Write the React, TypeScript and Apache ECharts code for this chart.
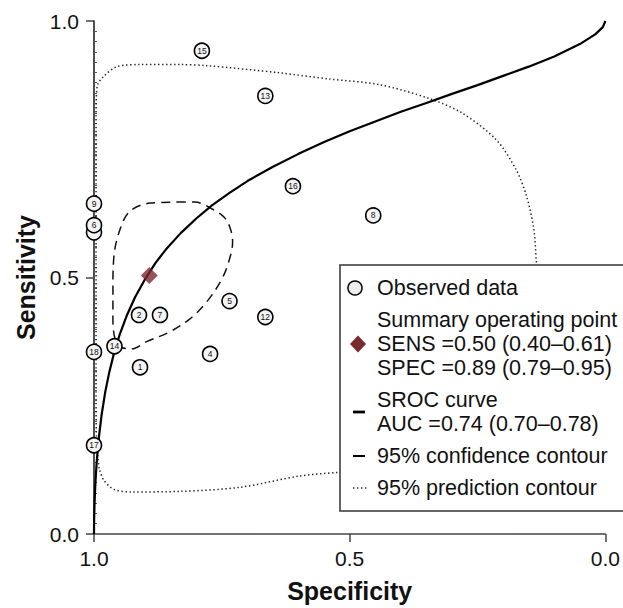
import React, { useEffect, useRef } from 'react';
import * as echarts from 'echarts';

// Individual studies (specificity, sensitivity); study 10 lies under study 6
const studyLabels = ['10', '18', '6', '9', '17', '1', '2', '4', '5', '7', '8', '12', '13', '14', '15', '16'];
const studySpec = [1.0, 1.0, 1.0, 1.0, 1.0, 0.91, 0.912, 0.773, 0.735, 0.871, 0.454, 0.665, 0.665, 0.96, 0.789, 0.611];
const studySens = [0.588, 0.355, 0.602, 0.644, 0.173, 0.325, 0.427, 0.351, 0.454, 0.427, 0.621, 0.423, 0.854, 0.366, 0.942, 0.678];
const hiddenLabels = ['10'];

// Summary operating point
const summarySpec = [0.892];
const summarySens = [0.504];

// SROC curve
const srocSpec = [1.0, 0.9999, 0.9997, 0.999, 0.998, 0.997, 0.995, 0.993, 0.99, 0.985, 0.978, 0.97, 0.96, 0.95, 0.935, 0.92, 0.9, 0.88, 0.86, 0.83, 0.8, 0.77, 0.735, 0.7, 0.65, 0.6, 0.55, 0.5, 0.45, 0.4, 0.35, 0.3, 0.25, 0.2, 0.15, 0.1, 0.05, 0.02, 0.005, 0.0];
const srocSens = [0.0, 0.015, 0.029, 0.057, 0.083, 0.104, 0.136, 0.161, 0.192, 0.233, 0.277, 0.316, 0.356, 0.388, 0.428, 0.461, 0.497, 0.528, 0.554, 0.587, 0.615, 0.64, 0.665, 0.688, 0.716, 0.741, 0.764, 0.785, 0.804, 0.823, 0.84, 0.858, 0.875, 0.893, 0.911, 0.931, 0.955, 0.974, 0.988, 1.0];

// 95% confidence contour
const ciSpec = [0.838, 0.803, 0.768, 0.745, 0.733, 0.729, 0.735, 0.75, 0.78, 0.813, 0.852, 0.897, 0.926, 0.949, 0.959, 0.963, 0.963, 0.961, 0.949, 0.93, 0.891, 0.838];
const ciSens = [0.647, 0.647, 0.633, 0.617, 0.594, 0.569, 0.536, 0.497, 0.452, 0.419, 0.394, 0.375, 0.361, 0.365, 0.381, 0.419, 0.478, 0.542, 0.594, 0.629, 0.645, 0.647];

// 95% prediction contour
const piSpec = [0.99, 0.995, 0.996, 0.996, 0.996, 0.996, 0.994, 0.982, 0.955, 0.91, 0.832, 0.78, 0.637, 0.54, 0.442, 0.345, 0.281, 0.214, 0.175, 0.154, 0.14, 0.135, 0.129, 0.131, 0.15, 0.209, 0.306, 0.404, 0.524, 0.598, 0.715, 0.832, 0.926, 0.961, 0.981, 0.99];
const piSens = [0.128, 0.186, 0.264, 0.458, 0.678, 0.808, 0.872, 0.891, 0.911, 0.915, 0.915, 0.913, 0.899, 0.887, 0.876, 0.849, 0.821, 0.769, 0.711, 0.658, 0.594, 0.53, 0.458, 0.361, 0.264, 0.186, 0.144, 0.128, 0.12, 0.113, 0.091, 0.083, 0.082, 0.087, 0.105, 0.128];

const axisTicks = [0, 0.5, 1];

const legendLines = {
  observed: 'Observed data',
  summary: ['Summary operating point', 'SENS =0.50 (0.40\u20130.61)', 'SPEC =0.89 (0.79\u20130.95)'],
  sroc: ['SROC curve', 'AUC =0.74 (0.70\u20130.78)'],
  conf: '95% confidence contour',
  pred: '95% prediction contour',
};

const FONT = "'Liberation Sans', Arial, Helvetica, sans-serif";

function zip(a: number[], b: number[]) {
  return a.map((v, i) => [v, b[i]]);
}

function txt(text: string, x: number, y: number) {
  return {
    type: 'text',
    x,
    y,
    z: 101,
    style: {
      text,
      fontSize: 21.5,
      fontFamily: FONT,
      fill: '#111',
      align: 'left',
      textAlign: 'left',
      verticalAlign: 'middle',
      textVerticalAlign: 'middle',
    },
  };
}

export default function App() {
  const ref = useRef<HTMLDivElement>(null);
  useEffect(() => {
    if (!ref.current) return;
    const chart = echarts.init(ref.current, null, { renderer: 'svg' });
    const axisColor = '#444';
    const tickLabel = { fontSize: 21, fontFamily: FONT, color: '#111' };
    const lx = 377;
    const option: any = {
      animation: false,
      backgroundColor: '#fff',
      grid: { left: 94, right: 16, top: 21, bottom: 72, containLabel: false },
      xAxis: {
        type: 'value',
        inverse: true,
        min: axisTicks[0],
        max: axisTicks[2],
        interval: 0.5,
        name: 'Specificity',
        nameLocation: 'middle',
        nameGap: 44,
        nameTextStyle: { fontSize: 25, fontWeight: 'bold', fontFamily: FONT, color: '#111' },
        axisLine: { show: true, onZero: false, lineStyle: { color: axisColor, width: 1.5 } },
        axisTick: { show: true, length: 8, lineStyle: { color: axisColor, width: 1.5 } },
        axisLabel: { ...tickLabel, margin: 14, formatter: (v: number) => v.toFixed(1) },
        splitLine: { show: false },
      },
      yAxis: [
        {
          type: 'value',
          min: axisTicks[0],
          max: axisTicks[2],
          interval: 0.5,
          position: 'left',
          name: 'Sensitivity',
          nameLocation: 'middle',
          nameGap: 51,
          nameTextStyle: { fontSize: 25, fontWeight: 'bold', fontFamily: FONT, color: '#111' },
          axisLine: { show: true, onZero: false, lineStyle: { color: '#222', width: 1.6 } },
          axisTick: { show: true, length: 8, lineStyle: { color: axisColor, width: 1.5 } },
          axisLabel: { ...tickLabel, margin: 15, formatter: (v: number) => v.toFixed(1) },
          splitLine: { show: false },
        },
        {
          type: 'value',
          min: axisTicks[0],
          max: axisTicks[2],
          interval: 0.5,
          position: 'left',
          offset: 0,
          axisLine: { show: false, onZero: false },
          axisTick: { show: false, inside: true },
          axisLabel: { show: false },
          minorTick: { show: true, splitNumber: 25, length: 3, lineStyle: { color: '#555', width: 1 } },
          splitLine: { show: false },
          minorSplitLine: { show: false },
        },
      ],
      series: [
        {
          type: 'line',
          data: zip(piSpec, piSens),
          showSymbol: false,
          smooth: 0.3,
          clip: false,
          lineStyle: { color: '#222', width: 1.5, type: [1.4, 2.6] },
          z: 2,
        },
        {
          type: 'line',
          data: zip(ciSpec, ciSens),
          showSymbol: false,
          smooth: 0.35,
          clip: false,
          lineStyle: { color: '#111', width: 1.5, type: [9, 6] },
          z: 3,
        },
        {
          type: 'line',
          data: zip(srocSpec, srocSens),
          showSymbol: false,
          smooth: false,
          clip: false,
          lineStyle: { color: '#000', width: 2.2 },
          z: 4,
        },
        {
          type: 'scatter',
          clip: false,
          data: studyLabels.map((n, i) => ({
            name: n,
            value: [studySpec[i], studySens[i]],
            label: { show: hiddenLabels.indexOf(n) < 0 },
          })),
          symbol: 'circle',
          symbolSize: 15,
          itemStyle: { color: '#f4f4f4', borderColor: '#000', borderWidth: 1.6, opacity: 1 },
          label: {
            show: true,
            position: 'inside',
            formatter: (p: any) => p.name,
            fontSize: 8.5,
            fontFamily: FONT,
            color: '#111',
          },
          z: 5,
        },
        {
          type: 'scatter',
          clip: false,
          data: zip(summarySpec, summarySens),
          symbol: 'diamond',
          symbolSize: [17, 17],
          itemStyle: { color: '#7a2a2e' },
          z: 6,
        },
      ],
      graphic: {
        elements: [
          {
            type: 'rect',
            z: 100,
            shape: { x: 340, y: 265, width: 300, height: 246 },
            style: { fill: '#fff', stroke: '#333', lineWidth: 1.5 },
          },
          {
            type: 'circle',
            z: 101,
            shape: { cx: 355, cy: 288, r: 7 },
            style: { fill: '#eee', stroke: '#000', lineWidth: 1.5 },
          },
          txt(legendLines.observed, lx, 288),
          {
            type: 'polygon',
            z: 101,
            shape: { points: [[350, 344], [358, 335.5], [366, 344], [358, 352.5]] },
            style: { fill: '#7a2a2e' },
          },
          txt(legendLines.summary[0], lx, 320),
          txt(legendLines.summary[1], lx, 344),
          txt(legendLines.summary[2], lx, 368),
          {
            type: 'line',
            z: 101,
            shape: { x1: 353, y1: 412, x2: 365, y2: 412 },
            style: { stroke: '#000', lineWidth: 2.8 },
          },
          txt(legendLines.sroc[0], lx, 400),
          txt(legendLines.sroc[1], lx, 424),
          {
            type: 'line',
            z: 101,
            shape: { x1: 353, y1: 456, x2: 365, y2: 456 },
            style: { stroke: '#000', lineWidth: 2 },
          },
          txt(legendLines.conf, lx, 456),
          {
            type: 'line',
            z: 101,
            shape: { x1: 353, y1: 488, x2: 368, y2: 488 },
            style: { stroke: '#222', lineWidth: 1.5, lineDash: [1.4, 2.6] },
          },
          txt(legendLines.pred, lx, 488),
        ],
      },
    };
    chart.setOption(option);
    return () => chart.dispose();
  }, []);
  return (
    <div
      ref={ref}
      style={{ position: 'fixed', left: 0, top: 0, width: 623, height: 608, background: '#fff' }}
    />
  );
}
